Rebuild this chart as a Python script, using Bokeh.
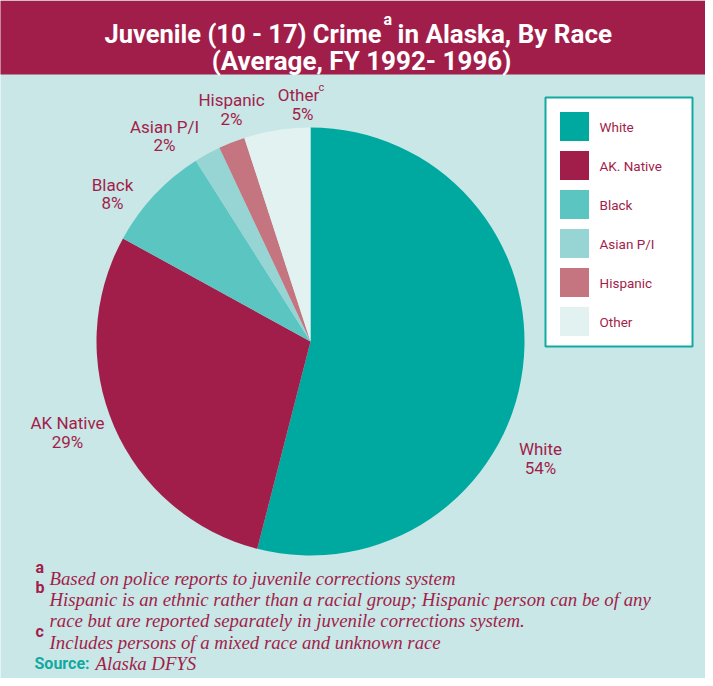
import numpy as np
from bokeh.plotting import figure
from bokeh.models import Range1d, ColumnDataSource
from bokeh.core.properties import value
from bokeh.embed import file_html
from bokeh.resources import INLINE

# ---------------- data ----------------
categories = ["White", "AK Native", "Black", "Asian P/I", "Hispanic", "Other"]
percents = [54, 29, 8, 2, 2, 5]
legend_labels = ["White", " AK. Native", "Black", "Asian P/I", "Hispanic", "Other"]
slice_names = ["White", "AK Native", "Black", "Asian P/I", "Hispanic", "Other"]
colors = ["#00A9A0", "#A21E4A", "#5BC5C1", "#96D5D3", "#C47580", "#E1F2F1"]

title_left = "Juvenile (10 - 17) Crime"
title_sup = "a"
title_right = " in Alaska, By Race"
title_line2 = "(Average, FY 1992- 1996)"

footnotes = [
    "Based on police reports to juvenile corrections system",
    "Hispanic is an ethnic rather than a racial group; Hispanic person can be of any",
    "race but are reported separately in juvenile corrections system.",
    "Includes persons of a mixed race and unknown race",
]
footnote_marks = ["a", "b", "c"]
source_label = "Source:"
source_text = "Alaska DFYS"

# ---------------- style / layout ----------------
CRIMSON = "#A21E4A"
TEAL = "#12A9A1"
BG = "#C9E7E7"
SANS = "Roboto"
SERIF = "Liberation Serif"

W, H = 705, 678
p = figure(width=W, height=H, output_backend="svg", toolbar_location=None,
           x_range=Range1d(8, 8 + W), y_range=Range1d(-(8 + H), -8),
           x_axis_type=None, y_axis_type=None, min_border=0,
           background_fill_color=BG, border_fill_color="white",
           outline_line_color=None)
p.grid.visible = False

# title band
p.quad(left=[5], right=[713], top=[-8], bottom=[-82], fill_color=CRIMSON, line_color=None)

def txt(x, y, s, size, color, font=SANS, style="normal", align="center", baseline="middle"):
    p.text(x=[x], y=[-y], text=[s], text_font=value(font), text_font_size=f"{size}px",
           text_color=color, text_font_style=style, text_align=align, text_baseline=baseline)

# title
txt(389, 41, title_left, 25.5, "white", style="bold", align="right", baseline="alphabetic")
txt(391, 27, title_sup, 16, "white", style="bold", align="left", baseline="alphabetic")
txt(405, 41, title_right, 26, "white", style="bold", align="left", baseline="alphabetic")
txt(369, 68, title_line2, 26, "white", style="bold", align="center", baseline="alphabetic")

# pie
cx, cy, r = 318, 349, 214
vals = np.array(percents, dtype=float)
cum = np.cumsum(vals) / vals.sum()
prev = np.concatenate([[0.0], cum[:-1]])
src = ColumnDataSource(dict(
    start=np.pi / 2 - 2 * np.pi * prev,
    end=np.pi / 2 - 2 * np.pi * cum,
    color=colors, name=categories))
p.wedge(x=cx, y=-cy, radius=r, radius_units="screen", start_angle="start", end_angle="end",
        direction="clock", fill_color="color", line_color=None, source=src)

# slice labels (name, percent) - hand placed like in the original
label_pos = [(548, 456, 475), (75, 430, 449), (120, 192, 210),
             (172, 134, 152), (239, 107, 126), (306, 102, 121)]
for name, pct, (lx, ly1, ly2) in zip(slice_names, percents, label_pos):
    txt(lx, ly1, name, 17, CRIMSON)
    txt(lx if name != "Other" else 310, ly2, f"{pct}%", 17, CRIMSON)
txt(326, 95, "c", 11, CRIMSON, align="left")

# legend
p.quad(left=[553], right=[700], top=[-105], bottom=[-354], fill_color="white",
       line_color=TEAL, line_width=2)
leg_y = [134 + 39 * i for i in range(len(categories))]
p.rect(x=[582] * len(categories), y=[-y for y in leg_y], width=29, height=29,
       width_units="screen", height_units="screen", fill_color=colors, line_color=None)
for lab, y in zip(legend_labels, leg_y):
    txt(607, y, lab, 13.5, CRIMSON, align="left")

# footnotes
fn_base = [586, 607, 628, 650]
for s, b in zip(footnotes, fn_base):
    txt(57, b, s, 18.8, CRIMSON, font=SERIF, style="italic", align="left", baseline="alphabetic")
for m, b in zip(footnote_marks, [575, 595, 639]):
    txt(43, b, m, 16, CRIMSON, style="bold", align="left", baseline="alphabetic")
txt(42, 671, source_label, 16, TEAL, style="bold", align="left", baseline="alphabetic")
txt(103, 671, source_text, 18.8, CRIMSON, font=SERIF, style="italic", align="left", baseline="alphabetic")

open("out.html", "w").write(file_html(p, INLINE))
